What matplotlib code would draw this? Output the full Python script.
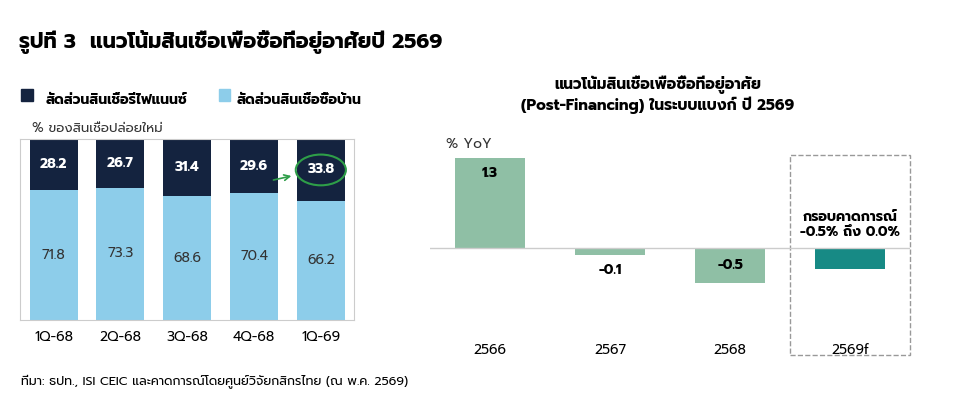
import numpy as np
import matplotlib.pyplot as plt
from matplotlib.patches import Rectangle, Ellipse

plt.rcParams['font.family'] = ['Prompt', 'Noto Sans Thai', 'DejaVu Sans']

quarters = ['1Q-68', '2Q-68', '3Q-68', '4Q-68', '1Q-69']
home = [71.8, 73.3, 68.6, 70.4, 66.2]
refi = [28.2, 26.7, 31.4, 29.6, 33.8]

years = ['2566', '2567', '2568', '2569f']
yoy = [1.3, -0.1, -0.5, -0.3]

fig = plt.figure(figsize=(9.6, 4.16), dpi=100)
fig.text(0.02, 0.885, 'รูปที่ 3  แนวโน้มสินเชื่อเพื่อซื้อที่อยู่อาศัยปี 2569',
         fontsize=15, fontweight='bold')

# left chart
ax = fig.add_axes([0.021, 0.23, 0.348, 0.435])
x = np.arange(len(quarters))
navy = '#14233f'
sky = '#8dcdea'
ax.bar(x, home, width=0.72, color=sky)
ax.bar(x, refi, bottom=home, width=0.72, color=navy)
for i in x:
    ax.text(i, home[i] / 2, f'{home[i]}', ha='center', va='center', fontsize=10, color='#333333')
    ax.text(i, home[i] + refi[i] / 2, f'{refi[i]}', ha='center', va='center',
            fontsize=10, color='white', fontweight='bold')
ax.set_xlim(-0.5, 4.5)
ax.set_ylim(0, 100)
ax.set_yticks([])
ax.set_xticks(x)
ax.set_xticklabels(quarters, fontsize=10)
ax.tick_params(axis='x', length=0, pad=8)
for s in ax.spines.values():
    s.set_color('#cccccc')
ax.add_patch(Ellipse((4, home[4] + refi[4] / 2), 0.75, 17, fill=False,
                     edgecolor='#2e9e48', lw=1.5, clip_on=False))
ax.annotate('', xy=(3.6, home[4] + refi[4] / 2 - 3), xytext=(3.25, home[3] + refi[3] / 2 - 8),
            arrowprops=dict(arrowstyle='->', color='#2e9e48', lw=1.2))
fig.text(0.048, 0.75, 'สัดส่วนสินเชื่อรีไฟแนนซ์', fontsize=10, fontweight='bold')
fig.patches.append(Rectangle((0.022, 0.757), 0.012, 0.028, transform=fig.transFigure, color=navy))
fig.text(0.246, 0.75, 'สัดส่วนสินเชื่อซื้อบ้าน', fontsize=10, fontweight='bold')
fig.patches.append(Rectangle((0.228, 0.757), 0.012, 0.028, transform=fig.transFigure, color=sky))
fig.text(0.033, 0.683, '% ของสินเชื่อปล่อยใหม่', fontsize=9.5, color='#333333')

# right chart
ax2 = fig.add_axes([0.448, 0.2, 0.5, 0.48])
colors = ['#8fbfa5', '#8fbfa5', '#8fbfa5', '#178a85']
xr = np.arange(len(years))
ax2.bar(xr, yoy, width=0.58, color=colors)
ax2.axhline(0, color='#cccccc', lw=1)
for i in range(3):
    if yoy[i] > 0:
        ax2.text(i, yoy[i] - 0.23, f'{yoy[i]}', ha='center', va='center', fontsize=10, fontweight='bold')
    elif yoy[i] < -0.3:
        ax2.text(i, yoy[i] / 2, f'{yoy[i]}', ha='center', va='center', fontsize=10, fontweight='bold')
    else:
        ax2.text(i, yoy[i] - 0.22, f'{yoy[i]}', ha='center', va='center', fontsize=10, fontweight='bold')
ax2.text(3, 0.33, 'กรอบคาดการณ์\n-0.5% ถึง 0.0%', ha='center', va='center',
         fontsize=10, fontweight='bold', linespacing=1.2)
ax2.add_patch(Rectangle((2.5, -1.53), 1.0, 2.86, fill=False, ls='--', ec='#999999', lw=1, clip_on=False))
ax2.set_xlim(-0.5, 3.5)
ax2.set_ylim(-1.21, 1.65)
ax2.set_yticks([])
ax2.set_xticks(xr)
ax2.set_xticklabels(years, fontsize=10)
ax2.tick_params(axis='x', length=0, pad=8)
for s in ax2.spines.values():
    s.set_visible(False)
fig.text(0.465, 0.645, '% YoY', fontsize=10, color='#333333')
fig.text(0.685, 0.735, 'แนวโน้มสินเชื่อเพื่อซื้อที่อยู่อาศัย\n(Post-Financing) ในระบบแบงก์ ปี 2569',
         ha='center', fontsize=11, fontweight='bold', linespacing=1.2)

fig.text(0.022, 0.075, 'ที่มา: ธปท., ISI CEIC และคาดการณ์โดยศูนย์วิจัยกสิกรไทย (ณ พ.ค. 2569)', fontsize=9)

fig.savefig('out.png', dpi=100)
